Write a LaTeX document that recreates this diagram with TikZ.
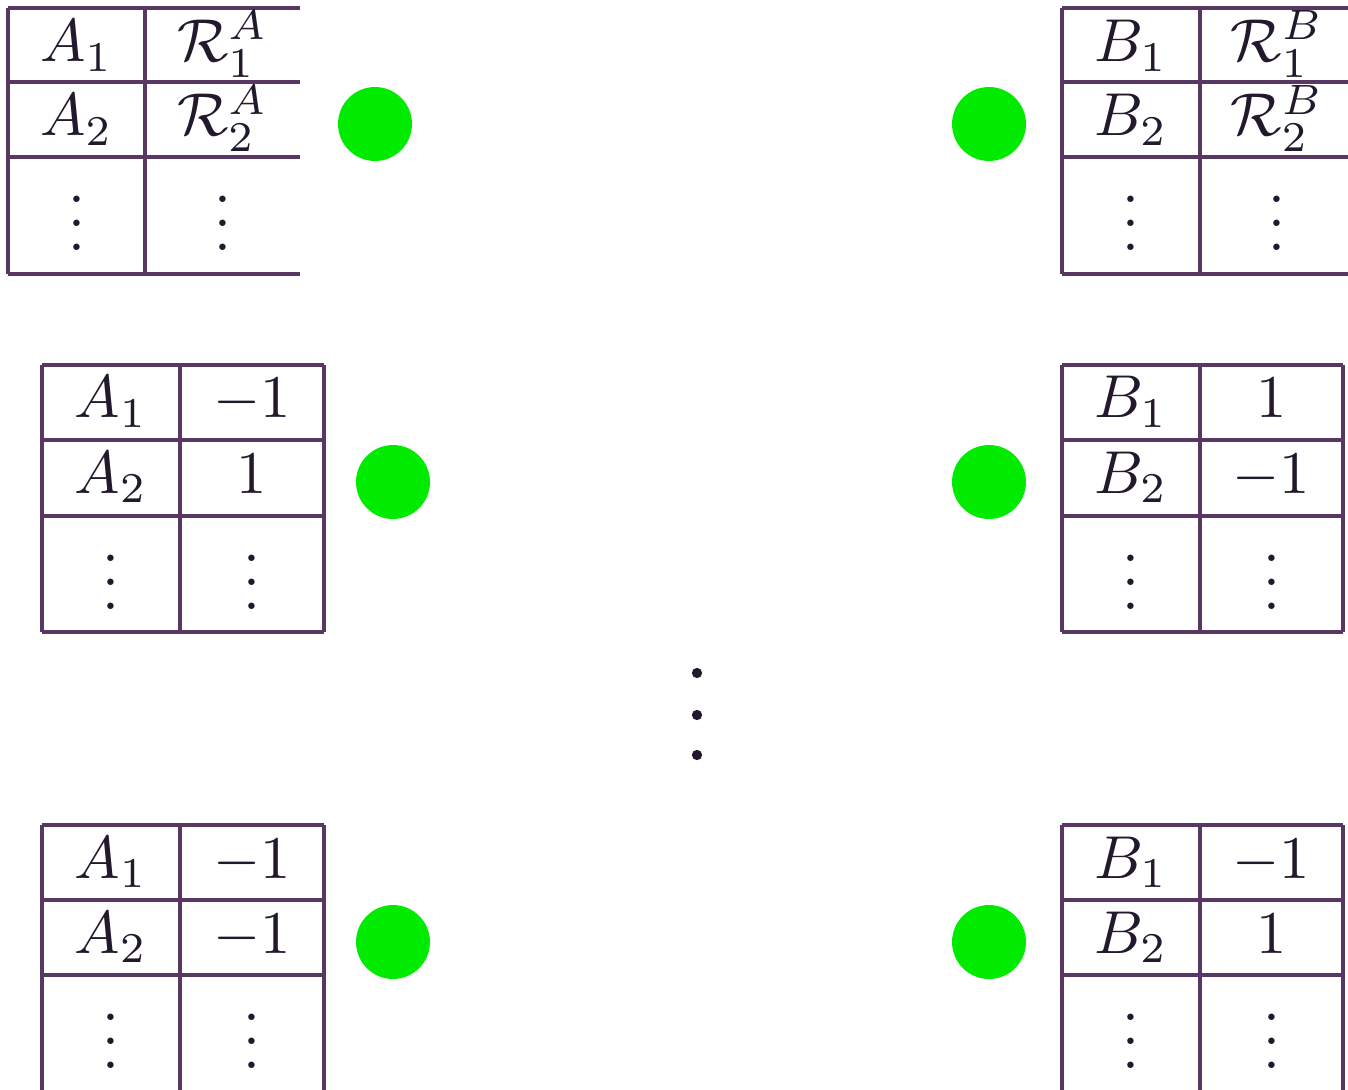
\documentclass[tikz,border=0pt]{standalone}
\definecolor{gridline}{RGB}{88,56,98}
\definecolor{ink}{RGB}{35,25,45}
\definecolor{tokengreen}{RGB}{0,235,0}
% three stacked dots, as \vdots but without the blank kern on top
\newcommand{\cellvdots}{\vbox{\baselineskip4pt \lineskiplimit0pt \hbox{.}\hbox{.}\hbox{.}}}
\tikzset{
  grid/.style={draw=gridline, line width=0.55pt},
  cell/.style={anchor=base, inner sep=0pt, text=ink},
  token/.style={circle, fill=tokengreen, minimum size=12.2pt, inner sep=0pt},
  gap/.style={circle, fill=ink, minimum size=1.7pt, inner sep=0pt},
}
\begin{document}
\begin{tikzpicture}[x=0.165pt, y=-0.165pt]
\useasboundingbox (0,0) rectangle (1348,1090);

% ---- top-left table: A_i with rewards R^A_i
\foreach \r in {8,82,157,274} \draw[grid] (8,\r) -- (300,\r);
\foreach \c in {8,145} \draw[grid] (\c,8) -- (\c,274);
\node[cell] (ta1) at (76.5,62) {$A_1$};
\node[cell] (tr1) at (222.5,62) {$\mathcal{R}^A_1$};
\node[cell] (ta2) at (76.5,136) {$A_2$};
\node[cell] (tr2) at (222.5,136) {$\mathcal{R}^A_2$};
\node[cell] (tad) at (76.5,250.5) {\cellvdots};
\node[cell] (trd) at (222.5,250.5) {\cellvdots};

% ---- top-right table: B_i with rewards R^B_i
\foreach \r in {8,82,157,274} \draw[grid] (1062,\r) -- (1348,\r);
\foreach \c in {1062,1200} \draw[grid] (\c,8) -- (\c,274);
\node[cell] (tb1) at (1131,62) {$B_1$};
\node[cell] (ts1) at (1277,62) {$\mathcal{R}^B_1$};
\node[cell] (tb2) at (1131,136) {$B_2$};
\node[cell] (ts2) at (1277,136) {$\mathcal{R}^B_2$};
\node[cell] (tbd) at (1131,250.5) {\cellvdots};
\node[cell] (tsd) at (1277,250.5) {\cellvdots};

% ---- middle-left table
\foreach \r in {365,440,516,632} \draw[grid] (42,\r) -- (324,\r);
\foreach \c in {42,180,324} \draw[grid] (\c,365) -- (\c,632);
\node[cell] (ma1) at (111,418) {$A_1$};
\node[cell] (mv1) at (252,418) {$-1$};
\node[cell] (ma2) at (111,493) {$A_2$};
\node[cell] (mv2) at (252,493) {$1$};
\node[cell] (mad) at (111,609.5) {\cellvdots};
\node[cell] (mvd) at (252,609.5) {\cellvdots};

% ---- middle-right table
\foreach \r in {365,440,516,632} \draw[grid] (1062,\r) -- (1343,\r);
\foreach \c in {1062,1200,1343} \draw[grid] (\c,365) -- (\c,632);
\node[cell] (mb1) at (1131,418) {$B_1$};
\node[cell] (mw1) at (1271.5,418) {$1$};
\node[cell] (mb2) at (1131,493) {$B_2$};
\node[cell] (mw2) at (1271.5,493) {$-1$};
\node[cell] (mbd) at (1131,609.5) {\cellvdots};
\node[cell] (mwd) at (1271.5,609.5) {\cellvdots};

% ---- bottom-left table
\foreach \r in {825,900,975} \draw[grid] (42,\r) -- (324,\r);
\foreach \c in {42,180,324} \draw[grid] (\c,825) -- (\c,1090);
\node[cell] (ba1) at (111,878) {$A_1$};
\node[cell] (bv1) at (252,878) {$-1$};
\node[cell] (ba2) at (111,953) {$A_2$};
\node[cell] (bv2) at (252,953) {$-1$};
\node[cell] (bad) at (111,1068.5) {\cellvdots};
\node[cell] (bvd) at (252,1068.5) {\cellvdots};

% ---- bottom-right table
\foreach \r in {825,900,975} \draw[grid] (1062,\r) -- (1343,\r);
\foreach \c in {1062,1200,1343} \draw[grid] (\c,825) -- (\c,1090);
\node[cell] (bb1) at (1131,878) {$B_1$};
\node[cell] (bw1) at (1271.5,878) {$-1$};
\node[cell] (bb2) at (1131,953) {$B_2$};
\node[cell] (bw2) at (1271.5,953) {$1$};
\node[cell] (bbd) at (1131,1068.5) {\cellvdots};
\node[cell] (bwd) at (1271.5,1068.5) {\cellvdots};

% ---- players
\node[token] (pA1) at (375,124) {};
\node[token] (pB1) at (989,124) {};
\node[token] (pA2) at (393,482) {};
\node[token] (pB2) at (989,482) {};
\node[token] (pA3) at (393,942) {};
\node[token] (pB3) at (989,942) {};

% ---- further rounds
\node[gap] (g1) at (697,673) {};
\node[gap] (g2) at (697,715) {};
\node[gap] (g3) at (697,755) {};
\end{tikzpicture}
\end{document}
